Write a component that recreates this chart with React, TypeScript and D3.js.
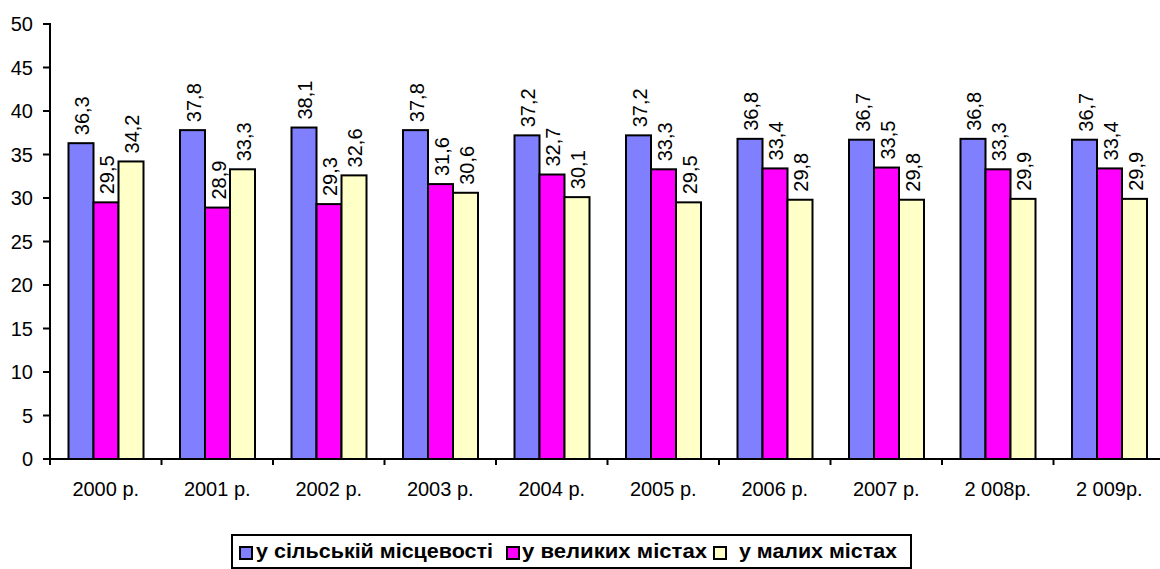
import React from "react";
import * as d3 from "d3";

const categories = ["2000 р.", "2001 р.", "2002 р.", "2003 р.", "2004 р.", "2005 р.", "2006 р.", "2007 р.", "2 008р.", "2 009р."];
const seriesNames = ["у сільській місцевості", "у великих містах", "у малих містах"];
const rural = [36.3, 37.8, 38.1, 37.8, 37.2, 37.2, 36.8, 36.7, 36.8, 36.7];
const bigCities = [29.5, 28.9, 29.3, 31.6, 32.7, 33.3, 33.4, 33.5, 33.3, 33.4];
const smallCities = [34.2, 33.3, 32.6, 30.6, 30.1, 29.5, 29.8, 29.8, 29.9, 29.9];
const yTicks = [0, 5, 10, 15, 20, 25, 30, 35, 40, 45, 50];

const colors = ["#8080FF", "#FF00FF", "#FFFFC8"];
const W = 1160;
const H = 569;

export default function App() {
  const series = [rural, bigCities, smallCities];
  const x0 = d3.scaleBand<string>().domain(categories).range([50, 50 + 10 * 111.5]).padding(0);
  const x1 = d3.scaleBand<number>().domain([0, 1, 2]).range([18.5, 18.5 + 75]).padding(0);
  const y = d3.scaleLinear().domain([0, 50]).range([459, 24]);
  const fmt = (v: number) => v.toFixed(1).replace(".", ",");
  const font = "Arial, 'Liberation Sans', sans-serif";

  const legendItems = [
    { mx: 240, tx: 256, tl: 237 },
    { mx: 507, tx: 522, tl: 185 },
    { mx: 714, tx: 739, tl: 158 },
  ];

  return (
    <div style={{ position: "absolute", left: 0, top: 0 }}>
      <svg width={W} height={H} style={{ display: "block", background: "#fff" }} fontFamily={font}>
        {/* bars */}
        {categories.map((c, i) => (
          <g key={c} transform={`translate(${x0(c)},0)`}>
            {series.map((s, k) => (
              <rect
                key={k}
                x={x1(k)}
                y={y(s[i])}
                width={x1.bandwidth()}
                height={y(0) - y(s[i])}
                fill={colors[k]}
                stroke="#000"
                strokeWidth={2}
              />
            ))}
            {series.map((s, k) => {
              const cx = (x1(k) as number) + x1.bandwidth() / 2 + 1;
              const cy = y(s[i]) - 8;
              return (
                <text
                  key={"l" + k}
                  transform={`translate(${cx},${cy}) rotate(-90)`}
                  textAnchor="start"
                  dy="0.35em"
                  fontSize={20}
                  fill="#000"
                >
                  {fmt(s[i])}
                </text>
              );
            })}
          </g>
        ))}
        {/* y axis */}
        <line x1={50} x2={50} y1={23} y2={460} stroke="#000" strokeWidth={2} />
        {yTicks.map((t) => (
          <g key={t}>
            <line x1={43} x2={50} y1={y(t)} y2={y(t)} stroke="#000" strokeWidth={2} />
            <text x={33} y={y(t)} dy="0.35em" textAnchor="end" fontSize={20}>
              {t}
            </text>
          </g>
        ))}
        {/* x axis */}
        <line x1={49} x2={W} y1={459} y2={459} stroke="#000" strokeWidth={2} />
        {categories.map((c) => (
          <g key={"t" + c}>
            <line x1={x0(c)} x2={x0(c)} y1={459} y2={465} stroke="#000" strokeWidth={2} />
            <text x={(x0(c) as number) + x0.bandwidth() / 2} y={496} textAnchor="middle" fontSize={20}>
              {c}
            </text>
          </g>
        ))}
        {/* legend */}
        <rect x={232} y={535} width={679} height={33} fill="#fff" stroke="#000" strokeWidth={2} />
        {seriesNames.map((n, k) => (
          <g key={n}>
            <rect x={legendItems[k].mx} y={547} width={12} height={12} fill={colors[k]} stroke="#000" strokeWidth={2} />
            <text
              x={legendItems[k].tx}
              y={558}
              fontSize={20}
              fontWeight="bold"
              textLength={legendItems[k].tl}
              lengthAdjust="spacingAndGlyphs"
            >
              {n}
            </text>
          </g>
        ))}
      </svg>
    </div>
  );
}
